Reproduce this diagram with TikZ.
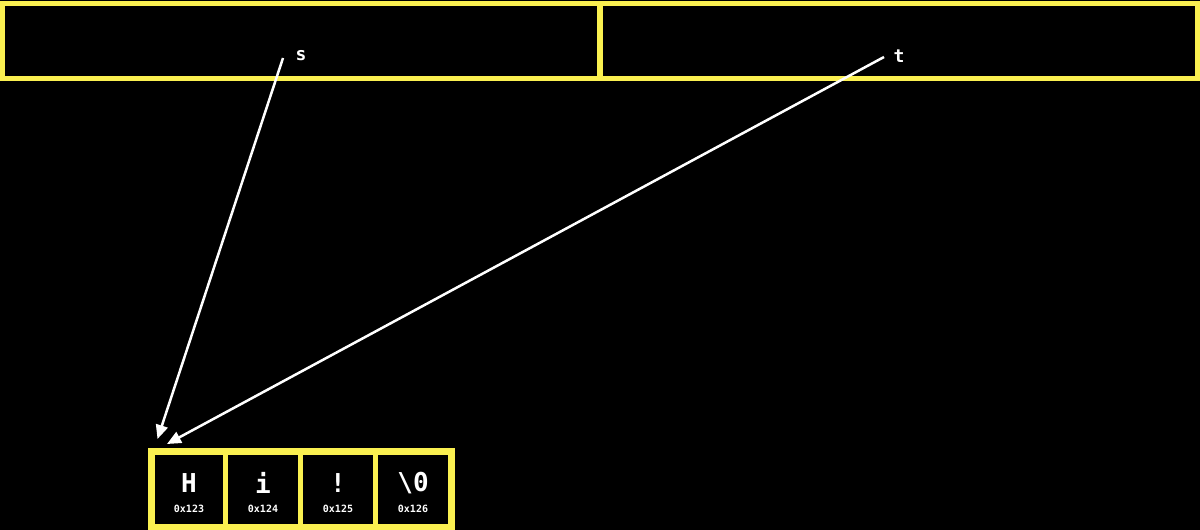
\documentclass[tikz,border=0pt]{standalone}
\usepackage{fontspec}
\setmonofont{DejaVu Sans Mono}
\usetikzlibrary{arrows.meta}
\definecolor{yel}{RGB}{250,240,80}
\begin{document}
\begin{tikzpicture}[x=1pt,y=-1pt,
  topcell/.style={draw=yel, line width=5pt},
  memcell/.style={draw=yel, line width=5pt, minimum width=75pt, minimum height=76pt, inner sep=0pt, anchor=center},
  chartext/.style={text=white, font=\ttfamily\bfseries\fontsize{26}{26}\selectfont, inner sep=0pt},
  addrtext/.style={text=white, font=\ttfamily\bfseries\fontsize{10}{10}\selectfont, inner sep=0pt},
  varname/.style={text=white, font=\ttfamily\bfseries\fontsize{18}{18}\selectfont, inner sep=0pt},
  ptr/.style={draw=white, line width=2.5pt, -{Triangle[length=14pt, width=12pt, fill=white]}}]
\fill[black] (0,0) rectangle (1200,530);
\useasboundingbox (0,0) rectangle (1200,530);
% top frames
\draw[topcell] (2.5,3) rectangle (599.5,78.5);
\draw[topcell] (600.5,3) rectangle (1197.5,78.5);
% variable labels
\node[varname] (s) at (301,56) {s};
\node[varname] (t) at (899,56) {t};
\coordinate (sa) at (283,58);
\coordinate (ta) at (884,57);
% memory cells
\node[memcell] (c1) at (188,489.5) {};
\node[memcell] (c2) at (263,489.5) {};
\node[memcell] (c3) at (338,489.5) {};
\node[memcell] (c4) at (413,489.5) {};
\draw[draw=yel, line width=7pt] (151.5,451.5) rectangle (451,527.5);
\node[chartext] (h1) at (189,483) {H};
\node[chartext] (h2) at (263,483) {i};
\node[chartext] (h3) at (338,483) {!};
\node[chartext] (h4) at (413,483) {\symbol{92}0};
\node[addrtext] (a1) at (189,508.5) {0x123};
\node[addrtext] (a2) at (263,508.5) {0x124};
\node[addrtext] (a3) at (338,508.5) {0x125};
\node[addrtext] (a4) at (413,508.5) {0x126};
\coordinate (sh) at (157.5,439);
\coordinate (th) at (167,444);
\draw[ptr] (sa) -- (sh);
\draw[ptr] (ta) -- (th);
\end{tikzpicture}
\end{document}
